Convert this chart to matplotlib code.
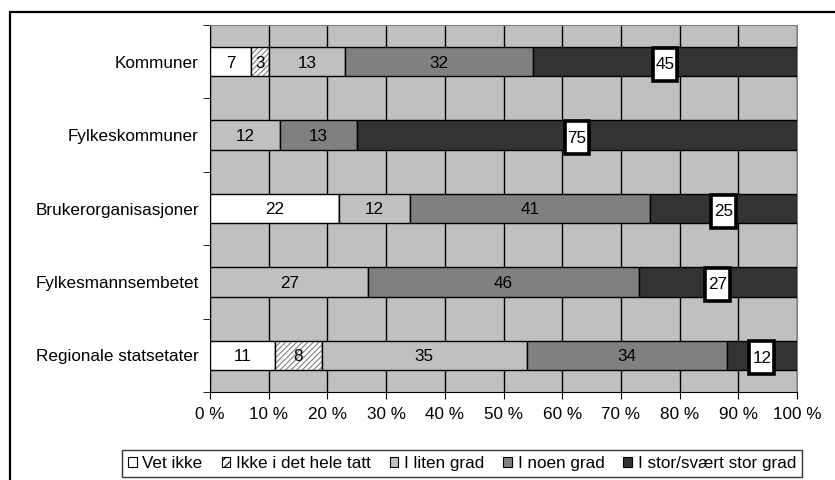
import matplotlib
matplotlib.use("Agg")
import matplotlib.pyplot as plt
from matplotlib.patches import Patch, Rectangle
import numpy as np

plt.rcParams['font.family'] = ['Liberation Sans', 'DejaVu Sans']
plt.rcParams['hatch.linewidth'] = 0.8

categories = ["Kommuner", "Fylkeskommuner", "Brukerorganisasjoner",
              "Fylkesmannsembetet", "Regionale statsetater"]
series = ["Vet ikke", "Ikke i det hele tatt", "I liten grad",
          "I noen grad", "I stor/svært stor grad"]
vet_ikke = [7, 0, 22, 0, 11]
ikke_hele = [3, 0, 0, 0, 8]
liten = [13, 12, 12, 27, 35]
noen = [32, 13, 41, 46, 34]
stor = [45, 75, 25, 27, 12]
values = [vet_ikke, ikke_hele, liten, noen, stor]
colors = ["white", "white", "#c0c0c0", "#808080", "#333333"]
xticks = np.arange(0, 101, 10)

FS = 12.3

fig = plt.figure(figsize=(8.35, 4.8), dpi=100)
ax = fig.add_axes([210/835, 1 - 392/480, 587/835, 367/480])
ax.set_facecolor("#c0c0c0")

y = np.arange(len(categories))
left = np.zeros(len(categories))
h = 0.4
for i, vals in enumerate(values):
    vals = np.array(vals, dtype=float)
    if i == 1:
        ax.barh(y, vals, left=left, height=h, color="white", edgecolor="#808080",
                hatch="//////", linewidth=0, zorder=3)
        ax.barh(y, vals, left=left, height=h, fill=False, edgecolor="black",
                linewidth=1, zorder=3)
    else:
        ax.barh(y, vals, left=left, height=h, color=colors[i], edgecolor="black",
                linewidth=1, zorder=3)
    for j, v in enumerate(vals):
        if v <= 0:
            continue
        cx = left[j] + v / 2
        if i == 4:
            # white label box with thick black border, sticking out below the bar
            ax.add_patch(Rectangle((cx - 2.1, y[j] - 0.19), 4.2, 0.45, fc="white",
                                   ec="black", lw=2.6, zorder=4))
            ax.text(cx, y[j] + 0.02, f"{int(v)}", ha="center", va="center_baseline",
                    fontsize=FS, zorder=5)
        else:
            ax.text(cx, y[j], f"{int(v)}", ha="center", va="center_baseline",
                    fontsize=FS, zorder=5)
    left += vals

ax.set_xlim(0, 100)
ax.set_ylim(len(categories) - 0.5, -0.5)
ax.set_xticks(xticks)
ax.set_xticklabels([f"{t} %" for t in xticks], fontsize=FS)
ax.set_yticks(y)
ax.set_yticklabels(categories, fontsize=FS)
ax.set_yticks(np.arange(-0.5, len(categories)), minor=True)
ax.tick_params(axis="y", which="major", length=0, pad=8)
ax.tick_params(axis="y", which="minor", length=5, direction="out", color="black")
ax.tick_params(axis="x", length=5, direction="out", pad=6, color="black")
ax.xaxis.grid(True, color="black", linewidth=1, zorder=1)
ax.set_axisbelow(True)
for s in ["top", "right"]:
    ax.spines[s].set_color("#808080")
for s in ["left", "bottom"]:
    ax.spines[s].set_color("black")

handles = []
for i, s in enumerate(series):
    if i == 1:
        handles.append(Patch(facecolor="white", edgecolor="black", hatch="////", label=s, lw=0.8))
    else:
        handles.append(Patch(facecolor=colors[i], edgecolor="black", label=s, lw=0.8))
leg = fig.legend(handles=handles, loc="upper left", bbox_to_anchor=(122/835, 1 - 450/480),
                 ncol=5, fontsize=FS, frameon=True, fancybox=False, handlelength=0.5,
                 handleheight=0.5, handletextpad=0.35, columnspacing=1.1,
                 borderpad=0.35, borderaxespad=0)
leg.get_frame().set_edgecolor("black")
leg.get_frame().set_linewidth(1)

fig.patches.append(Rectangle((10/835, -0.1), 1.2, 1 - 12/480 + 0.1,
                             transform=fig.transFigure, fill=False, ec="black", lw=1.6))

fig.savefig("out.png", dpi=100)
